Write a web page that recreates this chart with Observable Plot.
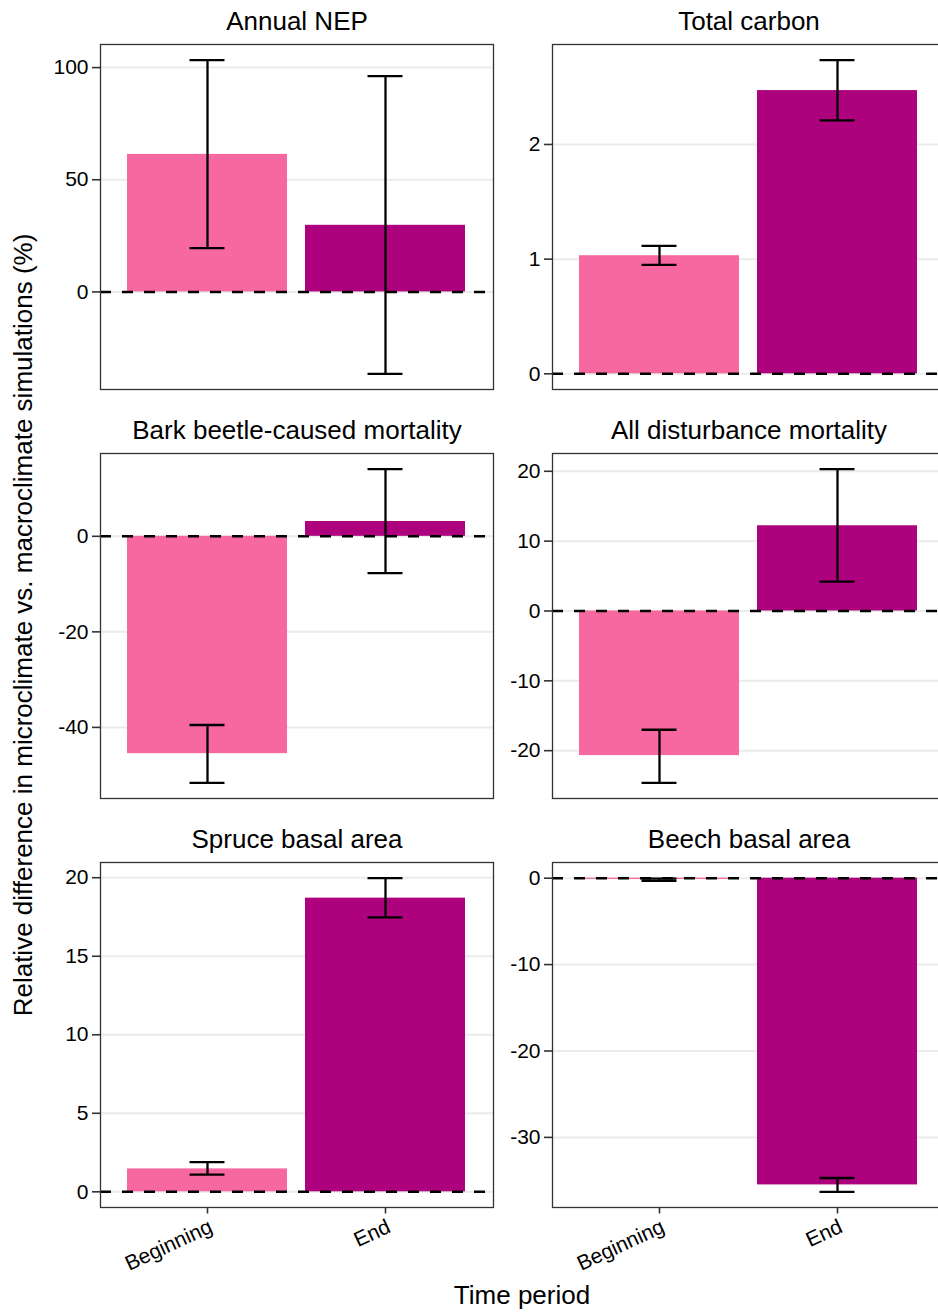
<!DOCTYPE html>
<html>
<head>
<meta charset="utf-8">
<script src="https://cdn.jsdelivr.net/npm/d3@7"></script>
<script src="https://cdn.jsdelivr.net/npm/@observablehq/plot@0.6"></script>
<style>
  html, body { margin: 0; padding: 0; background: #fff; }
  #chart {
    position: relative; width: 938px; height: 1313px; overflow: hidden;
    font-family: "Liberation Sans", Arial, sans-serif; color: #000; background: #fff;
  }
  #chart .cell { position: absolute; }
  .axis-title { position: absolute; font-size: 26px; line-height: 29px; white-space: nowrap; }
</style>
</head>
<body>
<div id="chart"></div>
<script>
// Facet titles, in reading order (two columns, three rows)
const panels = [
  "Annual NEP", "Total carbon",
  "Bark beetle-caused mortality", "All disturbance mortality",
  "Spruce basal area", "Beech basal area"
];
const periods = ["Beginning", "End"];
const periodColors = ["#F768A1", "#AE017E"];

// Mean relative difference (%) and error-bar limits, per panel
const meanBeginning  = [61.3, 1.03, -45.5, -20.7, 1.46, -0.15];
const lowerBeginning = [19.5, 0.95, -51.6, -24.6, 1.10, -0.32];
const upperBeginning = [103.3, 1.115, -39.5, -17.0, 1.89, -0.05];
const meanEnd  = [29.7, 2.47, 3.1, 12.2, 18.7, -35.5];
const lowerEnd = [-36.5, 2.21, -7.7, 4.2, 17.47, -36.3];
const upperEnd = [96.2, 2.735, 14.05, 20.3, 19.97, -34.7];

// y tick labels per panel
const ticksNEP = [0, 50, 100];
const ticksCarbon = [0, 1, 2];
const ticksBeetle = [-40, -20, 0];
const ticksDisturbance = [-20, -10, 0, 10, 20];
const ticksSpruce = [0, 5, 10, 15, 20];
const ticksBeech = [-30, -20, -10, 0];
const panelTicks = [ticksNEP, ticksCarbon, ticksBeetle, ticksDisturbance, ticksSpruce, ticksBeech];

const xTitle = "Time period";
const yTitle = "Relative difference in microclimate vs. macroclimate simulations (%)";

// Layout of the 3 x 2 grid (pixels)
const panelW = 393, panelH = 345;
const colLeft = [0, 490], colMarginLeft = [100, 62];
const rowTop = [0, 400, 820], rowMarginTop = [44, 53, 42];
const font = "Liberation Sans, Arial, sans-serif";

const chart = document.getElementById("chart");

panels.forEach((title, i) => {
  const col = i % 2, row = Math.floor(i / 2);
  const bottomRow = row === 2;
  const rows = periods.map((p, j) => ({
    period: p,
    mean: j === 0 ? meanBeginning[i] : meanEnd[i],
    lo: j === 0 ? lowerBeginning[i] : lowerEnd[i],
    hi: j === 0 ? upperBeginning[i] : upperEnd[i]
  }));

  // y range: data extent (including zero) expanded by 5% on each side
  const lo = Math.min(0, d3.min(rows, d => Math.min(d.mean, d.lo)));
  const hi = Math.max(0, d3.max(rows, d => Math.max(d.mean, d.hi)));
  const pad = (hi - lo) * 0.05;

  // discrete x: bars 0.9 wide, error caps 0.2 wide, 0.6 outer expansion
  const unit = panelW / 2.2;
  const capInset = (0.9 - 0.2) / 2 * unit;

  const marginLeft = colMarginLeft[col];
  const marginTop = rowMarginTop[row];
  const marginBottom = bottomRow ? 80 : 2;
  const ticks = panelTicks[i];

  const marks = [
    Plot.gridY(ticks, {stroke: "#EBEBEB", strokeOpacity: 1, strokeWidth: 2}),
    Plot.barY(rows, {x: "period", y1: 0, y2: "mean", fill: d => periodColors[periods.indexOf(d.period)]}),
    Plot.ruleY([0], {stroke: "#000", strokeWidth: 2.4, strokeDasharray: "11,11"}),
    Plot.ruleX(rows, {x: "period", y1: "lo", y2: "hi", stroke: "#000", strokeWidth: 2.3}),
    Plot.tickY(rows, {x: "period", y: "lo", stroke: "#000", strokeWidth: 2.3, insetLeft: capInset, insetRight: capInset}),
    Plot.tickY(rows, {x: "period", y: "hi", stroke: "#000", strokeWidth: 2.3, insetLeft: capInset, insetRight: capInset}),
    Plot.frame({stroke: "#333", strokeWidth: 1.3}),
    Plot.axisY(ticks, {
      tickSize: 8, tickPadding: 4, tickFormat: d => String(d), label: null,
      fontSize: 21, stroke: "#333", strokeWidth: 1.6, fill: "#000"
    }),
    Plot.text([title], {frameAnchor: "top", dy: -15, lineAnchor: "bottom", fontSize: 26, fill: "#000"})
  ];
  if (bottomRow) {
    marks.push(Plot.axisX({
      tickSize: 6.5, tickPadding: 4, tickRotate: -25, fontSize: 21, label: null,
      textAnchor: "end", lineAnchor: "top",
      stroke: "#333", strokeWidth: 1.6, fill: "#000"
    }));
  }

  const svg = Plot.plot({
    width: marginLeft + panelW + 2,
    height: marginTop + panelH + marginBottom,
    marginLeft, marginTop, marginBottom, marginRight: 2,
    style: {fontFamily: font, background: "transparent", color: "#000", overflow: "visible"},
    x: {type: "band", domain: periods, paddingInner: 0.1, paddingOuter: 0.15, axis: null, label: null},
    y: {domain: [lo - pad, hi + pad], axis: null, label: null},
    marks
  });
  svg.classList.add("cell");
  svg.style.left = colLeft[col] + "px";
  svg.style.top = rowTop[row] + "px";
  chart.appendChild(svg);
});

// Shared axis titles
const yLab = document.createElement("div");
yLab.className = "axis-title";
yLab.textContent = yTitle;
yLab.style.left = "23px";
yLab.style.top = "625px";
yLab.style.transform = "translate(-50%, -50%) rotate(-90deg)";
chart.appendChild(yLab);

const xLab = document.createElement("div");
xLab.className = "axis-title";
xLab.textContent = xTitle;
xLab.style.left = "522px";
xLab.style.top = "1281px";
xLab.style.transform = "translateX(-50%)";
chart.appendChild(xLab);
</script>
</body>
</html>
